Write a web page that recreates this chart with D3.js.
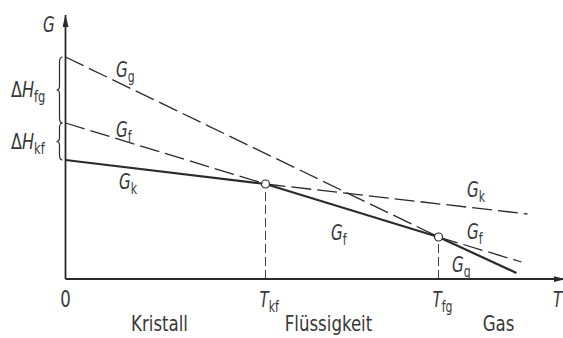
<!DOCTYPE html>
<html><head><meta charset="utf-8">
<script src="https://cdn.jsdelivr.net/npm/d3@7"></script>
<style>
html,body{margin:0;padding:0;background:#fff;}
svg{display:block;}
text{font-family:'DejaVu Sans Condensed','DejaVu Sans',sans-serif;font-stretch:condensed;fill:#383838;}
.it{font-style:italic;}
</style></head>
<body>
<script>
// transition temperatures (T units)
const transitions = [0, 4.0, 7.46];
const tickLabels = [["0",""], ["T","kf"], ["T","fg"]];
// free enthalpy curves (T, G pairs)
const gkT = [0, 4.0, 9.24], gkG = [11.9, 9.5, 6.5];
const gfT = [0, 4.0, 7.46, 9.12], gfG = [15.6, 9.5, 4.2, 1.7];
const ggT = [0, 7.46, 9.02], ggG = [22.2, 4.2, 0.6];
// stable range of each phase (T units)
const stableFrom = [0, 4.0, 7.46], stableTo = [4.0, 7.46, 99];
const phaseNames = ["Kristall", "Flüssigkeit", "Gas"];
const phaseLabelT = [1.88, 5.26, 8.66];
// enthalpy gaps on the G axis
const gapNames = [["ΔH","fg"], ["ΔH","kf"]];
const gapFrom = [15.6, 11.9], gapTo = [22.2, 15.6];

const W = 563, H = 338;
const x = d3.scaleLinear().domain([0, 10]).range([65.5, 565.5]);
const y = d3.scaleLinear().domain([0, 26]).range([279, 19]);
const svg = d3.select("body").append("svg").attr("width", W).attr("height", H);
const ink = "#2a2a2a";

// axes
const defs = svg.append("defs");
defs.append("marker").attr("id","arr").attr("viewBox","0 0 12 6").attr("refX",12).attr("refY",3)
  .attr("markerWidth",12).attr("markerHeight",6).attr("markerUnits","userSpaceOnUse").attr("orient","auto")
  .append("path").attr("d","M0,0L12,3L0,6Z").attr("fill",ink);
svg.append("line").attr("x1",x(0)).attr("y1",y(0)).attr("x2",x(0)).attr("y2",y(26.4))
  .attr("stroke",ink).attr("stroke-width",1.8).attr("marker-end","url(#arr)");
svg.append("line").attr("x1",x(0)).attr("y1",y(0)).attr("x2",x(10)).attr("y2",y(0))
  .attr("stroke",ink).attr("stroke-width",1.8).attr("marker-end","url(#arr)");

// vertical dashed lines at transitions
const circles = [[4.0, 9.5],[7.46, 4.2]];
circles.forEach(c => {
  svg.append("line").attr("x1",x(c[0])).attr("x2",x(c[0])).attr("y1",y(0)).attr("y2",y(c[1]))
    .attr("stroke",ink).attr("stroke-width",0.9).attr("stroke-dasharray","9,4");
});

// curves split into stable (solid) and metastable (dashed) segments
const series = [[gkT,gkG],[gfT,gfG],[ggT,ggG]];
series.forEach((s, i) => {
  const [ts, gs] = s;
  for (let j = 0; j < ts.length - 1; j++) {
    const mid = (ts[j] + ts[j+1]) / 2;
    const stable = mid >= stableFrom[i] && mid <= stableTo[i];
    svg.append("line").attr("x1",x(ts[j])).attr("y1",y(gs[j])).attr("x2",x(ts[j+1])).attr("y2",y(gs[j+1]))
      .attr("stroke",ink).attr("stroke-width",stable?2.2:1.3)
      .attr("stroke-dasharray",stable?null:"20,6");
  }
});
circles.forEach(c => {
  svg.append("circle").attr("cx",x(c[0])).attr("cy",y(c[1])).attr("r",4)
    .attr("fill","#fff").attr("stroke",ink).attr("stroke-width",1.2);
});

// braces
function brace(top, bot, xr) {
  const xl = xr - 6, m = (top + bot) / 2;
  return `M${xr},${top} Q${xl+3},${top} ${xl+3},${top+5} L${xl+3},${m-4} Q${xl+3},${m} ${xl},${m} Q${xl+3},${m} ${xl+3},${m+4} L${xl+3},${bot-5} Q${xl+3},${bot} ${xr},${bot}`;
}
// narrow text helper
function ntext(px, py, sx, anchor) {
  return svg.append("g").attr("transform", `translate(${px},${py}) scale(${sx},1)`)
    .append("text").attr("text-anchor", anchor || "start");
}
gapNames.forEach((g, i) => {
  svg.append("path").attr("d", brace(y(gapTo[i]), y(gapFrom[i]), x(0)-3))
    .attr("fill","none").attr("stroke",ink).attr("stroke-width",1.2);
  const t = ntext(11, (y(gapTo[i])+y(gapFrom[i]))/2 + 7, 0.85).style("font-size","21px");
  t.append("tspan").text(g[0][0]);
  t.append("tspan").attr("class","it").text(g[0].slice(1));
  t.append("tspan").attr("dy",5).style("font-size","15px").text(g[1]);
});

function lab(px, py, main, sub, size, italic) {
  const t = ntext(px, py, 0.8).style("font-size", size+"px");
  t.append("tspan").attr("class", italic?"it":null).text(main);
  if (sub) t.append("tspan").attr("dy", 5).style("font-size", (size*0.72)+"px").text(sub);
  return t;
}
lab(43, 32, "G", "", 21, true);
lab(116, 77, "G", "g", 21, true);
lab(116, 137, "G", "f", 21, true);
lab(119, 189, "G", "k", 21, true);
lab(331, 240, "G", "f", 21, true);
lab(467, 197, "G", "k", 21, true);
lab(467, 239, "G", "f", 21, true);
lab(452, 272, "G", "g", 21, true);

// tick labels
transitions.forEach((tv, i) => {
  const lb = tickLabels[i];
  if (lb[1]) lab(x(tv) - 6, 307, lb[0], lb[1], 21, true);
  else ntext(x(tv), 307, 0.8, "middle").style("font-size","23px").text(lb[0]);
});
lab(553, 307, "T", "", 21, true);

// phase names
phaseNames.forEach((p, i) => {
  ntext(x(phaseLabelT[i]), 331, 0.84, "middle").style("font-size","22px").text(p);
});
</script>
</body></html>
